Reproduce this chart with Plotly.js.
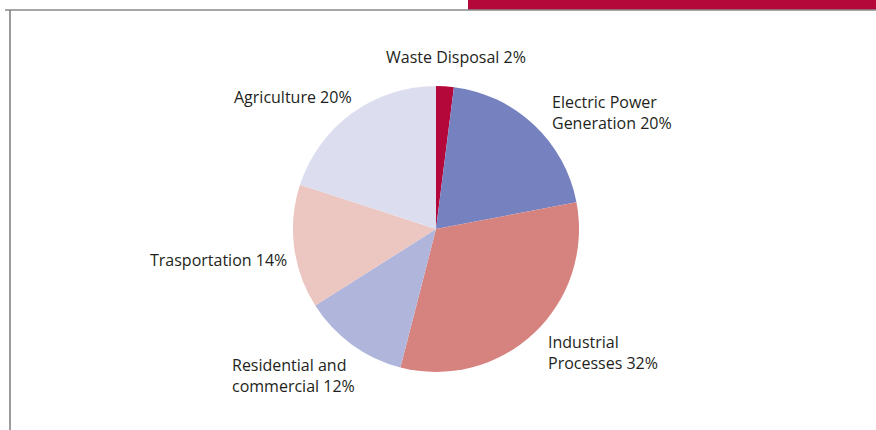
<!DOCTYPE html>
<html>
<head>
<meta charset="utf-8">
<script src="https://cdn.plot.ly/plotly-3.0.1.min.js"></script>
<style>html,body{margin:0;padding:0;background:#fff;}#chart{width:876px;height:430px;}</style>
</head>
<body>
<div id="chart"></div>
<script>
const categories = ["Waste Disposal", "Electric Power Generation", "Industrial Processes", "Residential and commercial", "Trasportation", "Agriculture"];
const shares = [2, 20, 32, 12, 14, 20];
const labelTexts = ["Waste Disposal 2%", "Electric Power<br>Generation 20%", "Industrial<br>Processes 32%", "Residential and<br>commercial 12%", "Trasportation 14%", "Agriculture 20%"];
const sliceColors = ["#b5083a", "#7682c0", "#d6827f", "#b0b5dc", "#ecc6c0", "#ddddf0"];

const W = 876, H = 430;
const cx = 436, cy = 229, r = 143;
// label anchor positions in pixels [x, y, xanchor]
const labelPos = [
  [456, 57, "center"],
  [550, 113, "left"],
  [546, 352, "left"],
  [230, 375, "left"],
  [289, 260, "right"],
  [354, 97, "right"]
];

const trace = {
  type: "pie",
  labels: categories,
  values: shares,
  sort: false,
  direction: "clockwise",
  rotation: 0,
  textinfo: "none",
  hoverinfo: "label+percent",
  marker: {colors: sliceColors, line: {width: 0}},
  domain: {x: [(cx - r) / W, (cx + r) / W], y: [(H - cy - r) / H, (H - cy + r) / H]},
  showlegend: false
};

const annotations = labelTexts.map((t, i) => ({
  xref: "paper", yref: "paper",
  x: labelPos[i][0] / W, y: 1 - labelPos[i][1] / H,
  xanchor: labelPos[i][2], yanchor: "middle",
  align: "left",
  text: t, showarrow: false,
  font: {family: "Open Sans, Noto Sans, sans-serif", size: 16, color: "#231f20"}
}));

const layout = {
  width: W, height: H,
  margin: {l: 0, r: 0, t: 0, b: 0},
  paper_bgcolor: "#ffffff",
  plot_bgcolor: "#ffffff",
  annotations: annotations,
  shapes: [
    {type: "rect", xref: "paper", yref: "paper", x0: 468 / W, x1: 1, y0: 1 - 10 / H, y1: 1, fillcolor: "#b5083a", line: {width: 0}},
    {type: "line", xref: "paper", yref: "paper", x0: 5 / W, x1: 1, y0: 1 - 10 / H, y1: 1 - 10 / H, line: {color: "#8a8a8a", width: 1.5}},
    {type: "line", xref: "paper", yref: "paper", x0: 10 / W, x1: 10 / W, y0: 0, y1: 1 - 10 / H, line: {color: "#7a7a7a", width: 1.5}}
  ]
};

Plotly.newPlot("chart", [trace], layout, {displayModeBar: false, staticPlot: true});
</script>
</body>
</html>
